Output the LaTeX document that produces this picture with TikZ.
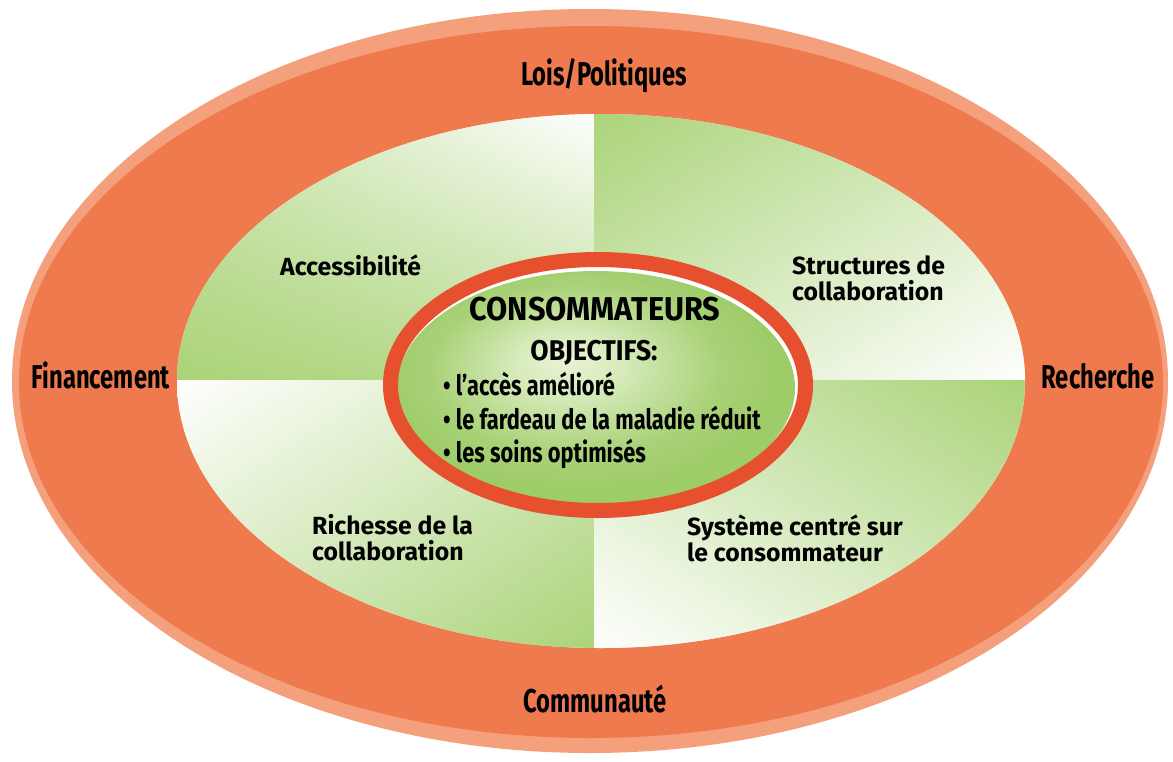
\documentclass[tikz,border=0pt]{standalone}
\usepackage{fontspec}
\setmainfont{Fira Sans}
\newfontfamily\condA[FakeStretch=0.72]{Fira Sans}
\newfontfamily\condB[FakeStretch=0.93]{Fira Sans}
\newfontfamily\condC[FakeStretch=0.78]{Fira Sans}
\usetikzlibrary{shadings}
\definecolor{orangeM}{RGB}{238,122,78}
\definecolor{orangeR}{RGB}{244,160,124}
\definecolor{ringred}{RGB}{231,80,46}
\definecolor{qgreen}{RGB}{170,211,120}
\definecolor{cgreen}{RGB}{158,204,104}
\definecolor{clight}{RGB}{232,244,212}
\pgfdeclareradialshading{centreshade}{\pgfpoint{-4bp}{6bp}}{color(0bp)=(clight); color(7bp)=(clight!75!cgreen); color(18bp)=(cgreen!85!clight); color(25bp)=(cgreen); color(50bp)=(cgreen)}
\tikzset{
  outerlabel/.style={font=\condA\bfseries\fontsize{33}{36}\selectfont, text=black, inner sep=0pt, anchor=base},
  quadlabel/.style={font=\bfseries\fontsize{24.8}{26}\selectfont, text=black, inner sep=0pt, align=left, anchor=north west},
  bulletlabel/.style={font=\condC\bfseries\fontsize{28}{33.5}\selectfont, text=black, inner sep=0pt, align=left, anchor=north west}
}
\begin{document}
\begin{tikzpicture}[x=1pt,y=-1pt]
\useasboundingbox (0,0) rectangle (1173,761);
\fill[white] (0,0) rectangle (1173,761);
% outer band with lighter rim
\fill[orangeR] (590,381) ellipse [x radius=578pt, y radius=372pt];
\fill[orangeM] (591,382) ellipse [x radius=572pt, y radius=356pt];
% inner ellipse with four shaded quadrants
\fill[white] (601,381) ellipse [x radius=424pt, y radius=267pt];
\begin{scope}
  \clip (601,381) ellipse [x radius=424pt, y radius=267pt];
  \shade[shading=bilinear interpolation, upper left=qgreen!60, upper right=white, lower left=qgreen, lower right=qgreen!80] (170,108) rectangle (594,380);
  \shade[shading=bilinear interpolation, upper left=qgreen, upper right=qgreen!50, lower left=qgreen!50, lower right=white] (594,108) rectangle (1030,380);
  \shade[shading=bilinear interpolation, upper left=white, upper right=qgreen!50, lower left=qgreen!50, lower right=qgreen] (170,380) rectangle (594,655);
  \shade[shading=bilinear interpolation, upper left=qgreen!50, upper right=qgreen, lower left=white, lower right=qgreen!50] (594,380) rectangle (1030,655);
\end{scope}
% centre ellipse
\fill[white] (599,384) ellipse [x radius=201pt, y radius=119pt];
\shade[shading=centreshade] (596,388) ellipse [x radius=199pt, y radius=117pt];
\draw[ringred, line width=15pt] (598,385) ellipse [x radius=207.5pt, y radius=125.5pt];
% outer labels
\node[outerlabel] (lois) at (604,85) {Lois/Politiques};
\node[outerlabel] (comm) at (595,712) {Communauté};
\node[outerlabel] (fin) at (101,388) {Financement};
\node[outerlabel] (rech) at (1098,388) {Recherche};
% quadrant labels
\node[quadlabel] (acc) at (280,255) {Accessibilité};
\node[quadlabel] (struct) at (792,255) {Structures de\\collaboration};
\node[quadlabel] (rich) at (312,514) {Richesse de la\\collaboration};
\node[quadlabel] (sys) at (687,515) {Système centré sur\\le consommateur};
% centre texts
\node[font=\condB\bfseries\fontsize{33}{36}\selectfont, inner sep=0pt, anchor=base] (cons) at (595,320) {CONSOMMATEURS};
\node[font=\condB\bfseries\fontsize{28.5}{30}\selectfont, inner sep=0pt, anchor=base] (obj) at (594,360) {OBJECTIFS:};
\node[bulletlabel] (goals) at (443,372) {• l’accès amélioré\\• le fardeau de la maladie réduit\\• les soins optimisés};
\end{tikzpicture}
\end{document}
